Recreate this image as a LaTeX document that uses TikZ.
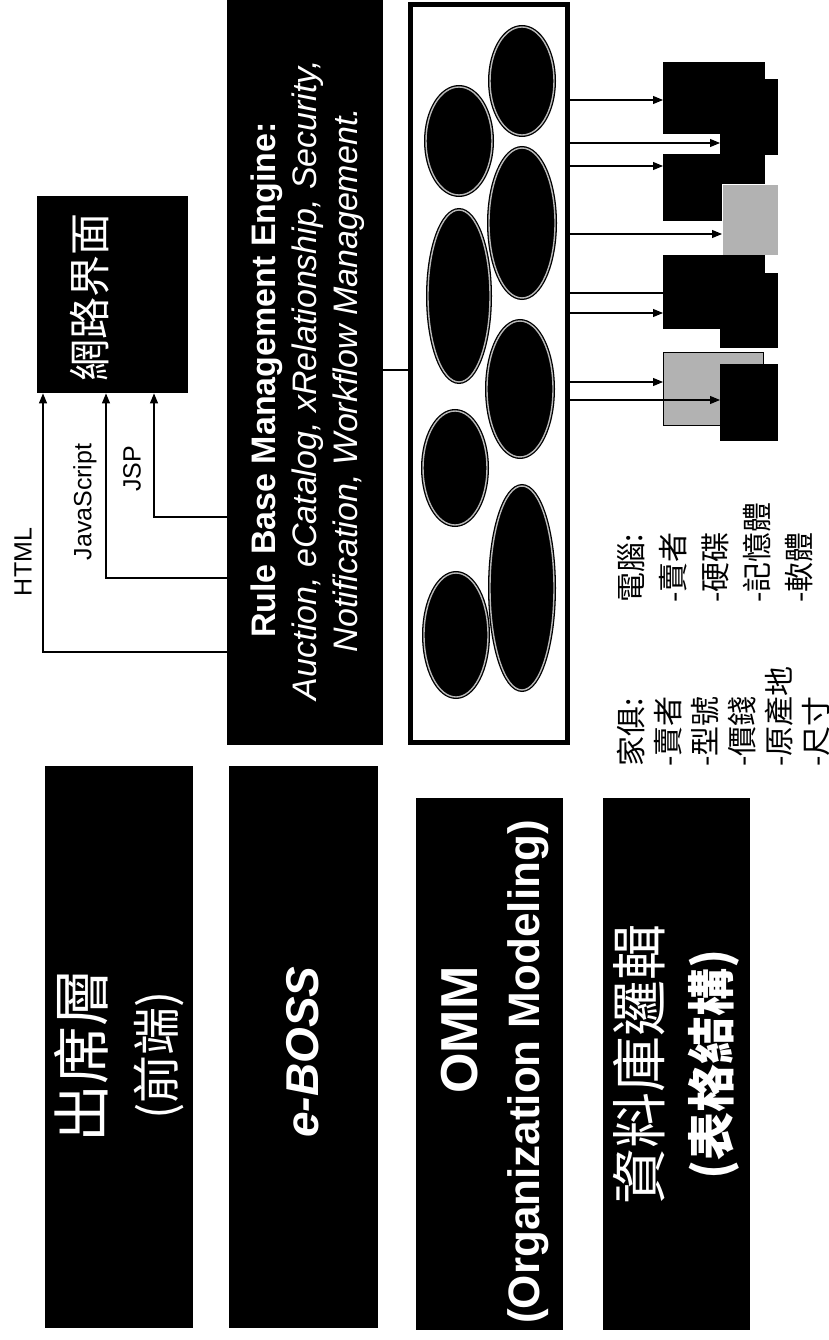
\documentclass[tikz,border=0pt]{standalone}
\usepackage{fontspec}
\setmainfont{Liberation Sans}
\newfontfamily\cjk{Noto Sans CJK TC}
\usetikzlibrary{shapes.geometric,arrows.meta,positioning}
\tikzset{
  box/.style={fill=black,inner sep=0pt,anchor=north west},
  greybox/.style={fill=gray!60,inner sep=0pt,anchor=north west,line width=1.2pt},
  oval/.style={ellipse,fill=black,draw=gray!55,line width=1.4pt,
    preaction={draw=black,line width=4pt},inner sep=0pt},
  vtext/.style={rotate=90,inner sep=0pt},
  feed/.style={->,line width=1.1pt},
  list/.style={vtext,align=left,anchor=north west,font=\cjk\fontsize{30}{#1}\selectfont},
}
\begin{document}
\begin{tikzpicture}[x=1pt,y=-1pt,>={Triangle[length=10pt,width=8pt]}]
  \useasboundingbox (0,0) rectangle (829,1340);
  \node[box,minimum width=151pt,minimum height=197pt] (web) at (37,196) {};
  \node[vtext,text=white,font=\cjk\fontsize{42}{42}\selectfont] (webtxt) at (90,297) {網路界面};
  \node[box,minimum width=156pt,minimum height=745pt] (engine) at (227,0) {};
  \node[vtext,text=white,align=center,font=\fontsize{34}{41}\selectfont] (enginetxt) at (308,380)
    {\textbf{Rule Base Management Engine:}\\
     \textit{Auction, eCatalog, xRelationship, Security,}\\
     \textit{Notification, Workflow Management.}};
  \node[vtext,font=\fontsize{25}{25}\selectfont] (html) at (23,562) {HTML};
  \node[vtext,font=\fontsize{25}{25}\selectfont] (js) at (85,502) {JavaScript};
  \node[vtext,font=\fontsize{25}{25}\selectfont] (jsp) at (132,469) {JSP};
  \draw[feed] (engine.west |- 0,652) -| (web.south -| 43,0);
  \draw[feed] (engine.west |- 0,578) -| (web.south -| 106,0);
  \draw[feed] (engine.west |- 0,517) -| (web.south -| 154,0);

  \node[draw,line width=5pt,fill=white,minimum width=157pt,minimum height=738pt,inner sep=0pt] (store) at (489,373.5) {};
  \draw[line width=2pt] (engine.east |- 0,370) -- (store.west |- 0,370);
  \foreach \n/\cx/\cy/\w/\h in {l1/459/141/66/108,l2/459/296/62/172,l3/455/468/64/114,l4/456/635/64/124,
      r1/522/81/64/108,r2/522/223/66/150,r3/520/389/66/136,r4/522/588/64/204}
    \node[oval,minimum width=\w,minimum height=\h] (\n) at (\cx,\cy) {};

  \node[box,minimum width=58pt,minimum height=76pt] (p1b) at (720,79) {};
  \node[box,minimum width=102pt,minimum height=72pt] (p1a) at (663,62) {};
  \node[box,minimum width=102pt,minimum height=67pt] (p2a) at (663,154) {};
  \node[greybox,draw=white,minimum width=56pt,minimum height=71pt] (p2b) at (722,184) {};
  \node[box,minimum width=58pt,minimum height=75pt] (p3b) at (720,273) {};
  \node[box,minimum width=102pt,minimum height=74pt] (p3a) at (663,255) {};
  \node[greybox,draw=black,minimum width=100pt,minimum height=73pt] (p4a) at (663,352) {};
  \node[box,minimum width=58pt,minimum height=77pt] (p4b) at (720,364) {};
  \foreach \y/\dst in {100/p1a,143/p1b,166/p2a,234/p2b,313/p3a,382/p4a,400/p4b}
    \draw[feed] (store.east |- 0,\y) -- (\dst.west |- 0,\y);
  \draw[line width=1.1pt] (store.east |- 0,293) -- (p3a.west |- 0,293);

  \node[list=42] (pc) at (617,603) {電腦:\\-賣者\\-硬碟\\-記憶體\\-軟體};
  \node[list=37] (furn) at (617,767) {家俱:\\-賣者\\-型號\\-價錢\\-原產地\\-尺寸};

  \node[box,minimum width=148pt,minimum height=562pt] (front) at (45,766) {};
  \node[vtext,text=white,align=center,font=\cjk\fontsize{58}{71}\selectfont] (fronttxt) at (119,1055)
    {出席層\\{\fontsize{48}{48}\selectfont(前端)}};
  \node[box,minimum width=149pt,minimum height=562pt] (eboss) at (229,766) {};
  \node[vtext,text=white,font=\fontsize{46}{46}\selectfont\bfseries\itshape] (ebosstxt) at (303,1052) {e-BOSS};
  \node[box,minimum width=147pt,minimum height=532pt] (omm) at (416,798) {};
  \node[vtext,text=white,font=\bfseries\fontsize{52}{52}\selectfont] (ommtxt) at (460,1030) {OMM};
  \node[vtext,text=white,font=\bfseries\fontsize{44}{44}\selectfont] (ommsub) at (528,1072) {(Organization Modeling)};
  \node[box,minimum width=147pt,minimum height=532pt] (db) at (603,798) {};
  \node[vtext,text=white,align=center,font=\cjk\fontsize{56}{69}\selectfont] (dbtxt) at (db.center)
    {資料庫邏輯\\{\bfseries\fontsize{48}{48}\selectfont(表格結構)}};
\end{tikzpicture}
\end{document}
